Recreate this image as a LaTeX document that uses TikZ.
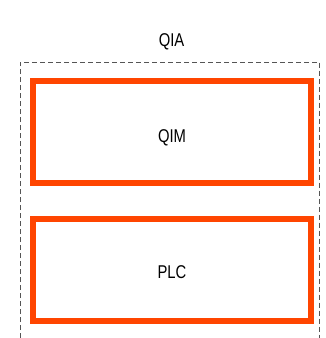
\documentclass[tikz,border=0pt]{standalone}
\usepackage{fontspec}
\setmainfont{Liberation Sans}
\newfontfamily\narrowfont[FakeStretch=0.8]{Liberation Sans}
\usepackage{tikz}
\definecolor{qred}{RGB}{255,69,0}
\definecolor{qgrey}{RGB}{85,85,85}
\usetikzlibrary{positioning}

\begin{document}
\begin{tikzpicture}[x=1pt,y=-1pt,
  qbox/.style={draw=qred,line width=6pt,minimum width=278pt,minimum height=101.5pt,inner sep=0pt,text depth=0pt,font=\narrowfont\fontsize{18.5}{20}\selectfont},
  qlabel/.style={inner sep=0pt,font=\narrowfont\fontsize{18.5}{20}\selectfont}]
  \useasboundingbox (0,0) rectangle (325,338);
  % Container (open at the bottom)
  \draw[qgrey,line width=0.9pt,dash pattern=on 5pt off 3pt] (20,338) -- (20,62) -- (319.5,62) -- (319.5,338);
  \node[qlabel] (qia) at (171.5,41.5) {QIA};
  % Inner blocks
  \node[qbox,text height=21pt] (qim) at (172,132) {QIM};
  \node[qbox,text height=17.5pt,below=30.5pt of qim] (plc) {PLC};
\end{tikzpicture}
\end{document}
